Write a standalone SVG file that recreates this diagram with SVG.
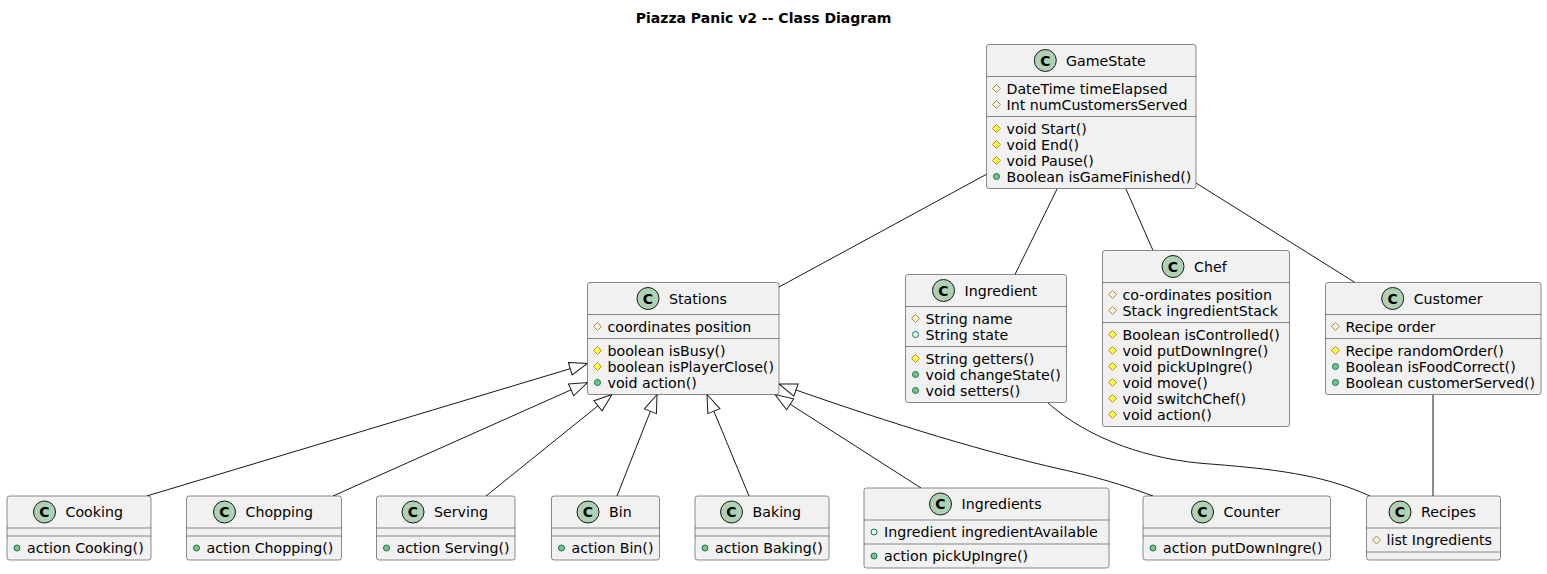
<svg xmlns="http://www.w3.org/2000/svg" xmlns:xlink="http://www.w3.org/1999/xlink" width="1547" height="574" viewBox="0 0 1547 574">
<style>
text { font-family: "DejaVu Sans", "Noto Sans", sans-serif; font-size: 14.2px; fill: #000000; }
.title { font-weight: bold; text-anchor: middle; font-size: 14px; }
.box { fill: #F1F1F1; stroke: #181818; stroke-width: 0.5; }
.sep { stroke: #181818; stroke-width: 0.5; fill: none; }
.ci { fill: #ADD1B2; stroke: #181818; stroke-width: 1; }
.cl { font-weight: bold; text-anchor: middle; font-size: 14px; }
.pa { fill: none; stroke: #B38D22; stroke-width: 1; }
.pm { fill: #FFFF44; stroke: #B38D22; stroke-width: 1; }
.ua { fill: none; stroke: #038048; stroke-width: 1; }
.um { fill: #84BE84; stroke: #038048; stroke-width: 1; }
.edge { fill: none; stroke: #181818; stroke-width: 1; }
</style>
<defs>
<path id="dia" d="M0,-4 L4,0 L0,4 L-4,0 Z"/>
<circle id="dot" r="3"/>
<marker id="ext" markerUnits="userSpaceOnUse" markerWidth="20" markerHeight="16" viewBox="0 0 20 16" refX="19" refY="8" orient="auto" overflow="visible">
<path d="M1,1.5 L19,8 L1,14.5 Z" fill="#FFFFFF" stroke="#181818" stroke-width="1"/>
</marker>
</defs>
<rect width="1547" height="574" fill="#FFFFFF"/>
<text class="title" x="763.5" y="23">Piazza Panic v2 -- Class Diagram</text>

<g id="connectors">
<path class="edge" d="M987,174 L779,287"/>
<path class="edge" d="M1057,189 L1015,274.5"/>
<path class="edge" d="M1126,189 L1153,250.5"/>
<path class="edge" d="M1196,183 L1355,282.5"/>
<path class="edge" d="M1048,403 C1090,440 1150,460 1210,464 C1290,470 1330,478 1370,496"/>
<path class="edge" d="M1433,394.5 L1433,496"/>
<path class="edge" marker-end="url(#ext)" d="M146.7,496 L587.5,363.5"/>
<path class="edge" marker-end="url(#ext)" d="M333,496 L587.5,382.5"/>
<path class="edge" marker-end="url(#ext)" d="M486,496 L612,394.5"/>
<path class="edge" marker-end="url(#ext)" d="M617,496 L657,394.5"/>
<path class="edge" marker-end="url(#ext)" d="M749,496 L707,394.5"/>
<path class="edge" marker-end="url(#ext)" d="M921,488 L775,394.5"/>
<path class="edge" marker-end="url(#ext)" d="M1153,496 C1120,484 1100,478 1060,469 C990,453 900,427 779,384"/>
</g>

<g id="GameState">
<rect class="box" x="986.5" y="44.5" width="209.5" height="144" rx="2.5"/>
<circle class="ci" cx="1045.3" cy="60.5" r="11"/>
<text class="cl" x="1045.3" y="65.5">C</text>
<text x="1066" y="65.5">GameState</text>
<line class="sep" x1="986.5" y1="76.5" x2="1196" y2="76.5"/>
<use href="#dia" class="pa" x="996.5" y="88.5"/>
<text x="1006.5" y="93.5">DateTime timeElapsed</text>
<use href="#dia" class="pa" x="996.5" y="104.5"/>
<text x="1006.5" y="109.5">Int numCustomersServed</text>
<line class="sep" x1="986.5" y1="116.5" x2="1196" y2="116.5"/>
<use href="#dia" class="pm" x="996.5" y="128.5"/>
<text x="1006.5" y="133.5">void Start()</text>
<use href="#dia" class="pm" x="996.5" y="144.5"/>
<text x="1006.5" y="149.5">void End()</text>
<use href="#dia" class="pm" x="996.5" y="160.5"/>
<text x="1006.5" y="165.5">void Pause()</text>
<use href="#dot" class="um" x="996.5" y="176.5"/>
<text x="1006.5" y="181.5">Boolean isGameFinished()</text>
</g>

<g id="Stations">
<rect class="box" x="587.5" y="282.5" width="191.5" height="112" rx="2.5"/>
<circle class="ci" cx="648" cy="298.5" r="11"/>
<text class="cl" x="648" y="303.5">C</text>
<text x="669" y="303.5">Stations</text>
<line class="sep" x1="587.5" y1="314.5" x2="779" y2="314.5"/>
<use href="#dia" class="pa" x="597.5" y="326.5"/>
<text x="607.5" y="331.5">coordinates position</text>
<line class="sep" x1="587.5" y1="338.5" x2="779" y2="338.5"/>
<use href="#dia" class="pm" x="597.5" y="350.5"/>
<text x="607.5" y="355.5">boolean isBusy()</text>
<use href="#dia" class="pm" x="597.5" y="366.5"/>
<text x="607.5" y="371.5">boolean isPlayerClose()</text>
<use href="#dot" class="um" x="597.5" y="382.5"/>
<text x="607.5" y="387.5">void action()</text>
</g>

<g id="Ingredient">
<rect class="box" x="905.5" y="274.5" width="161" height="128" rx="2.5"/>
<circle class="ci" cx="943.5" cy="290.5" r="11"/>
<text class="cl" x="943.5" y="295.5">C</text>
<text x="964.5" y="295.5">Ingredient</text>
<line class="sep" x1="905.5" y1="306.5" x2="1066.5" y2="306.5"/>
<use href="#dia" class="pa" x="915.5" y="318.5"/>
<text x="925.5" y="323.5">String name</text>
<use href="#dot" class="ua" x="915.5" y="334.5"/>
<text x="925.5" y="339.5">String state</text>
<line class="sep" x1="905.5" y1="346.5" x2="1066.5" y2="346.5"/>
<use href="#dia" class="pm" x="915.5" y="358.5"/>
<text x="925.5" y="363.5">String getters()</text>
<use href="#dot" class="um" x="915.5" y="374.5"/>
<text x="925.5" y="379.5">void changeState()</text>
<use href="#dot" class="um" x="915.5" y="390.5"/>
<text x="925.5" y="395.5">void setters()</text>
</g>

<g id="Chef">
<rect class="box" x="1102.5" y="250.5" width="187" height="176" rx="2.5"/>
<circle class="ci" cx="1173" cy="266.5" r="11"/>
<text class="cl" x="1173" y="271.5">C</text>
<text x="1194" y="271.5">Chef</text>
<line class="sep" x1="1102.5" y1="282.5" x2="1289.5" y2="282.5"/>
<use href="#dia" class="pa" x="1112.5" y="294.5"/>
<text x="1122.5" y="299.5">co-ordinates position</text>
<use href="#dia" class="pa" x="1112.5" y="310.5"/>
<text x="1122.5" y="315.5">Stack ingredientStack</text>
<line class="sep" x1="1102.5" y1="322.5" x2="1289.5" y2="322.5"/>
<use href="#dia" class="pm" x="1112.5" y="334.5"/>
<text x="1122.5" y="339.5">Boolean isControlled()</text>
<use href="#dia" class="pm" x="1112.5" y="350.5"/>
<text x="1122.5" y="355.5">void putDownIngre()</text>
<use href="#dia" class="pm" x="1112.5" y="366.5"/>
<text x="1122.5" y="371.5">void pickUpIngre()</text>
<use href="#dia" class="pm" x="1112.5" y="382.5"/>
<text x="1122.5" y="387.5">void move()</text>
<use href="#dia" class="pm" x="1112.5" y="398.5"/>
<text x="1122.5" y="403.5">void switchChef()</text>
<use href="#dia" class="pm" x="1112.5" y="414.5"/>
<text x="1122.5" y="419.5">void action()</text>
</g>

<g id="Customer">
<rect class="box" x="1325.5" y="282.5" width="215.5" height="112" rx="2.5"/>
<circle class="ci" cx="1392.7" cy="298.5" r="11"/>
<text class="cl" x="1392.7" y="303.5">C</text>
<text x="1413.7" y="303.5">Customer</text>
<line class="sep" x1="1325.5" y1="314.5" x2="1541" y2="314.5"/>
<use href="#dia" class="pa" x="1335.5" y="326.5"/>
<text x="1345.5" y="331.5">Recipe order</text>
<line class="sep" x1="1325.5" y1="338.5" x2="1541" y2="338.5"/>
<use href="#dia" class="pm" x="1335.5" y="350.5"/>
<text x="1345.5" y="355.5">Recipe randomOrder()</text>
<use href="#dot" class="um" x="1335.5" y="366.5"/>
<text x="1345.5" y="371.5">Boolean isFoodCorrect()</text>
<use href="#dot" class="um" x="1335.5" y="382.5"/>
<text x="1345.5" y="387.5">Boolean customerServed()</text>
</g>

<g id="Cooking">
<rect class="box" x="7" y="496" width="144" height="64" rx="2.5"/>
<circle class="ci" cx="44.5" cy="512" r="11"/>
<text class="cl" x="44.5" y="517">C</text>
<text x="65.5" y="517">Cooking</text>
<line class="sep" x1="7" y1="528" x2="151" y2="528"/>
<line class="sep" x1="7" y1="536" x2="151" y2="536"/>
<use href="#dot" class="um" x="17" y="548"/>
<text x="27" y="553">action Cooking()</text>
</g>

<g id="Chopping">
<rect class="box" x="186.5" y="496" width="155" height="64" rx="2.5"/>
<circle class="ci" cx="224.5" cy="512" r="11"/>
<text class="cl" x="224.5" y="517">C</text>
<text x="245.5" y="517">Chopping</text>
<line class="sep" x1="186.5" y1="528" x2="341.5" y2="528"/>
<line class="sep" x1="186.5" y1="536" x2="341.5" y2="536"/>
<use href="#dot" class="um" x="196.5" y="548"/>
<text x="206.5" y="553">action Chopping()</text>
</g>

<g id="Serving">
<rect class="box" x="376.5" y="496" width="138.5" height="64" rx="2.5"/>
<circle class="ci" cx="413" cy="512" r="11"/>
<text class="cl" x="413" y="517">C</text>
<text x="434" y="517">Serving</text>
<line class="sep" x1="376.5" y1="528" x2="515" y2="528"/>
<line class="sep" x1="376.5" y1="536" x2="515" y2="536"/>
<use href="#dot" class="um" x="386.5" y="548"/>
<text x="396.5" y="553">action Serving()</text>
</g>

<g id="Bin">
<rect class="box" x="551.5" y="496" width="108" height="64" rx="2.5"/>
<circle class="ci" cx="588" cy="512" r="11"/>
<text class="cl" x="588" y="517">C</text>
<text x="609" y="517">Bin</text>
<line class="sep" x1="551.5" y1="528" x2="659.5" y2="528"/>
<line class="sep" x1="551.5" y1="536" x2="659.5" y2="536"/>
<use href="#dot" class="um" x="561.5" y="548"/>
<text x="571.5" y="553">action Bin()</text>
</g>

<g id="Baking">
<rect class="box" x="695" y="496" width="134" height="64" rx="2.5"/>
<circle class="ci" cx="731.5" cy="512" r="11"/>
<text class="cl" x="731.5" y="517">C</text>
<text x="752.5" y="517">Baking</text>
<line class="sep" x1="695" y1="528" x2="829" y2="528"/>
<line class="sep" x1="695" y1="536" x2="829" y2="536"/>
<use href="#dot" class="um" x="705" y="548"/>
<text x="715" y="553">action Baking()</text>
</g>

<g id="Ingredients">
<rect class="box" x="864" y="488" width="245" height="80" rx="2.5"/>
<circle class="ci" cx="940.5" cy="504" r="11"/>
<text class="cl" x="940.5" y="509">C</text>
<text x="961.5" y="509">Ingredients</text>
<line class="sep" x1="864" y1="520" x2="1109" y2="520"/>
<use href="#dot" class="ua" x="874" y="532"/>
<text x="884" y="537">Ingredient ingredientAvailable</text>
<line class="sep" x1="864" y1="544" x2="1109" y2="544"/>
<use href="#dot" class="um" x="874" y="556"/>
<text x="884" y="561">action pickUpIngre()</text>
</g>

<g id="Counter">
<rect class="box" x="1143" y="496" width="187.5" height="64" rx="2.5"/>
<circle class="ci" cx="1202.5" cy="512" r="11"/>
<text class="cl" x="1202.5" y="517">C</text>
<text x="1223.5" y="517">Counter</text>
<line class="sep" x1="1143" y1="528" x2="1330.5" y2="528"/>
<line class="sep" x1="1143" y1="536" x2="1330.5" y2="536"/>
<use href="#dot" class="um" x="1153" y="548"/>
<text x="1163" y="553">action putDownIngre()</text>
</g>

<g id="Recipes">
<rect class="box" x="1366.5" y="496" width="134" height="64" rx="2.5"/>
<circle class="ci" cx="1400" cy="512" r="11"/>
<text class="cl" x="1400" y="517">C</text>
<text x="1421" y="517">Recipes</text>
<line class="sep" x1="1366.5" y1="528" x2="1500.5" y2="528"/>
<use href="#dia" class="pa" x="1376.5" y="540"/>
<text x="1386.5" y="545">list Ingredients</text>
<line class="sep" x1="1366.5" y1="552" x2="1500.5" y2="552"/>
</g>
</svg>
